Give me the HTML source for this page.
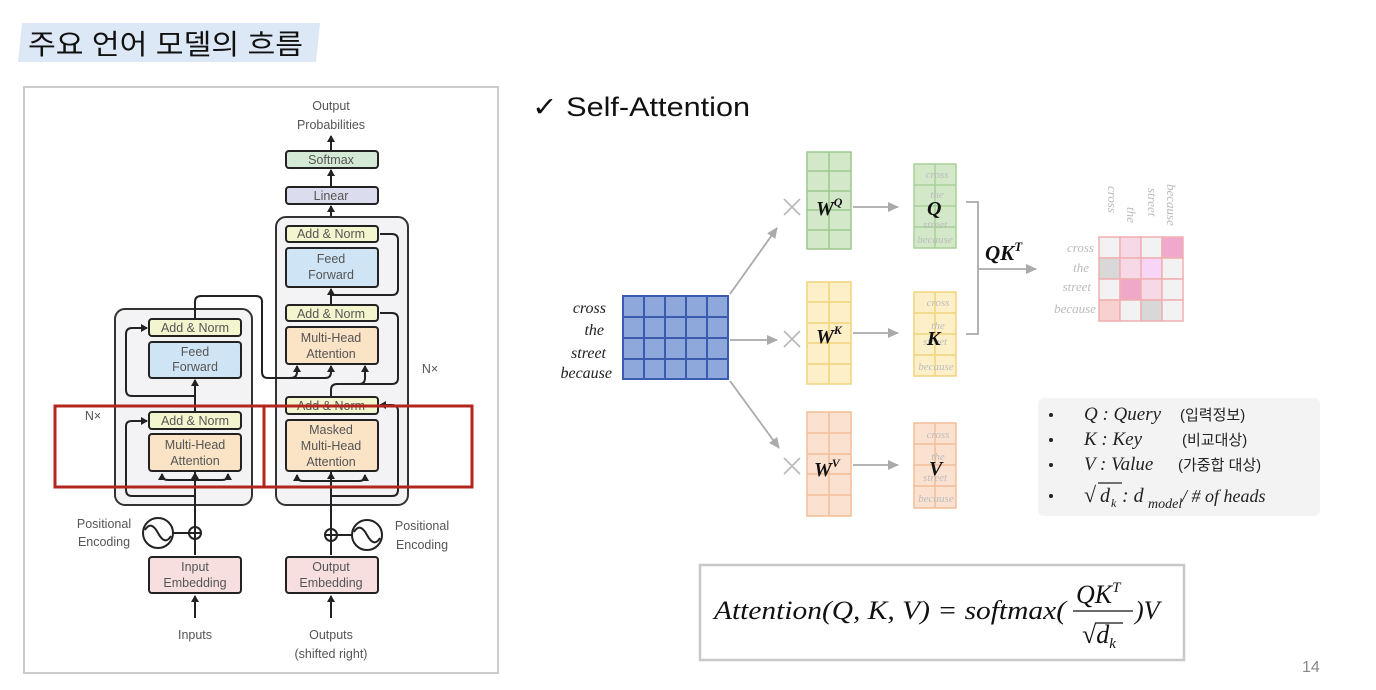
<!DOCTYPE html>
<html><head><meta charset="utf-8"><style>
html,body{margin:0;padding:0;background:#fff;}
svg{display:block;}
.s{font-family:"Liberation Sans","NanumGothic",sans-serif;}
.t{font-family:"Liberation Sans",sans-serif;font-size:12.5px;fill:#555;text-anchor:middle;}
.m{font-family:"Liberation Serif","DejaVu Serif",serif;font-style:italic;}
.b{stroke:#222;stroke-width:2;}
</style></head><body>
<svg width="1376" height="690" viewBox="0 0 1376 690" xmlns="http://www.w3.org/2000/svg">
<defs>
<marker id="a" markerWidth="8" markerHeight="8" refX="6" refY="4" orient="auto" markerUnits="userSpaceOnUse"><path d="M0,0 L7,4 L0,8 z" fill="#222"/></marker>
<marker id="g" markerWidth="12" markerHeight="12" refX="10" refY="6" orient="auto" markerUnits="userSpaceOnUse"><path d="M0,1 L11,6 L0,11 z" fill="#aaa"/></marker>
</defs>
<!-- header -->
<polygon points="22,23 320,23 316,62 18,62" fill="#dce8f5"/>
<text x="28" y="54" font-size="28" textLength="275" lengthAdjust="spacingAndGlyphs" fill="#111" style="font-family:'Liberation Sans','Noto Sans CJK KR',sans-serif">주요 언어 모델의 흐름</text>
<!-- left panel -->
<rect x="24" y="87" width="474" height="586" fill="#fff" stroke="#ccc" stroke-width="2"/>
<!-- transformer -->
<text x="331" y="110" class="t" font-size="13">Output</text>
<text x="331" y="129" class="t" font-size="13">Probabilities</text>
<line x1="331" y1="151" x2="331" y2="136" class="b" marker-end="url(#a)"/>
<rect x="286" y="151" width="92" height="17" rx="3" fill="#d5e9d7" class="b"/>
<text x="331" y="164" class="t">Softmax</text>
<line x1="331" y1="187" x2="331" y2="170" class="b" marker-end="url(#a)"/>
<rect x="286" y="187" width="92" height="17" rx="3" fill="#dcdcef" class="b"/>
<text x="331" y="200" class="t">Linear</text>
<line x1="331" y1="226" x2="331" y2="206" class="b" marker-end="url(#a)"/>
<!-- blocks -->
<rect x="276" y="217" width="132" height="288" rx="10" fill="#f3f3f5" stroke="#333" stroke-width="2"/>
<rect x="115" y="309" width="137" height="196" rx="10" fill="#f3f3f5" stroke="#333" stroke-width="2"/>
<!-- encoder -->
<line x1="195" y1="555" x2="195" y2="434" class="b"/>
<line x1="195" y1="492" x2="195" y2="473" class="b" marker-end="url(#a)"/>
<path d="M195,480 H168 Q162,480 162,474" fill="none" class="b" marker-end="url(#a)"/>
<path d="M195,480 H222 Q228,480 228,474" fill="none" class="b" marker-end="url(#a)"/>
<path d="M195,496 H132 Q126,496 126,490 V426 Q126,421 132,421 H147" fill="none" class="b" marker-end="url(#a)"/>
<line x1="195" y1="412" x2="195" y2="380" class="b" marker-end="url(#a)"/>
<path d="M195,396 H132 Q126,396 126,390 V334 Q126,328 132,328 H147" fill="none" class="b" marker-end="url(#a)"/>
<path d="M195,319 V302 Q195,296 201,296 H256 Q262,296 262,302 V372 Q262,378 268,378 H325 Q331,378 331,372 V366" fill="none" class="b" marker-end="url(#a)"/>
<path d="M290,378 Q297,378 297,372 V366" fill="none" class="b" marker-end="url(#a)"/>
<rect x="149" y="319" width="92" height="17" rx="3" fill="#f3f5cf" class="b"/>
<text x="195" y="332" class="t">Add &amp; Norm</text>
<rect x="149" y="342" width="92" height="36" rx="3" fill="#cfe5f6" class="b"/>
<text x="195" y="356" class="t">Feed</text><text x="195" y="371" class="t">Forward</text>
<rect x="149" y="412" width="92" height="17" rx="3" fill="#f3f5cf" class="b"/>
<text x="195" y="425" class="t">Add &amp; Norm</text>
<rect x="149" y="434" width="92" height="37" rx="3" fill="#fbe3c6" class="b"/>
<text x="195" y="449" class="t">Multi-Head</text><text x="195" y="465" class="t">Attention</text>
<!-- decoder -->
<line x1="331" y1="555" x2="331" y2="472" class="b"/>
<line x1="331" y1="490" x2="331" y2="473" class="b" marker-end="url(#a)"/>
<path d="M331,481 H303 Q297,481 297,475" fill="none" class="b" marker-end="url(#a)"/>
<path d="M331,481 H359 Q365,481 365,475" fill="none" class="b" marker-end="url(#a)"/>
<path d="M331,496 H392 Q398,496 398,490 V411 Q398,405 392,405 H380" fill="none" class="b" marker-end="url(#a)"/>
<path d="M331,397 V390 Q331,384 337,384 H359 Q365,384 365,378 V366" fill="none" class="b" marker-end="url(#a)"/>
<path d="M337,384 H392 Q398,384 398,378 V319 Q398,313 392,313 H380" fill="none" class="b"/>
<line x1="331" y1="305" x2="331" y2="289" class="b" marker-end="url(#a)"/>
<path d="M331,295 H392 Q398,295 398,289 V240 Q398,234 392,234 H380" fill="none" class="b"/>
<rect x="286" y="226" width="92" height="16" rx="3" fill="#f3f5cf" class="b"/>
<text x="331" y="238" class="t">Add &amp; Norm</text>
<rect x="286" y="248" width="92" height="39" rx="3" fill="#cfe5f6" class="b"/>
<text x="331" y="263" class="t">Feed</text><text x="331" y="279" class="t">Forward</text>
<rect x="286" y="305" width="92" height="16" rx="3" fill="#f3f5cf" class="b"/>
<text x="331" y="318" class="t">Add &amp; Norm</text>
<rect x="286" y="327" width="92" height="37" rx="3" fill="#fbe3c6" class="b"/>
<text x="331" y="342" class="t">Multi-Head</text><text x="331" y="358" class="t">Attention</text>
<rect x="286" y="397" width="92" height="17" rx="3" fill="#f3f5cf" class="b"/>
<text x="331" y="410" class="t">Add &amp; Norm</text>
<rect x="286" y="420" width="92" height="51" rx="3" fill="#fbe3c6" class="b"/>
<text x="331" y="434" class="t">Masked</text><text x="331" y="450" class="t">Multi-Head</text><text x="331" y="466" class="t">Attention</text>
<text x="430" y="373" class="t" font-size="13">N×</text>
<text x="93" y="420" class="t" font-size="13">N×</text>
<!-- positional -->
<circle cx="195" cy="533" r="6" fill="#fff" class="b" stroke-width="1.5"/>
<path d="M189,533 H201 M195,527 V539" class="b" stroke-width="1.5"/>
<circle cx="158" cy="533" r="15" fill="#fff" class="b" stroke-width="1.5"/>
<path d="M145,530 Q151,520 158,533 Q165,546 171,536" fill="none" class="b" stroke-width="1.5"/>
<line x1="173" y1="533" x2="189" y2="533" class="b" stroke-width="1.5"/>
<circle cx="331" cy="535" r="6" fill="#fff" class="b" stroke-width="1.5"/>
<path d="M325,535 H337 M331,529 V541" class="b" stroke-width="1.5"/>
<circle cx="367" cy="535" r="15" fill="#fff" class="b" stroke-width="1.5"/>
<path d="M354,532 Q360,522 367,535 Q374,548 380,538" fill="none" class="b" stroke-width="1.5"/>
<line x1="337" y1="535" x2="352" y2="535" class="b" stroke-width="1.5"/>
<text x="104" y="528" class="t" font-size="13">Positional</text>
<text x="104" y="546" class="t" font-size="13">Encoding</text>
<text x="422" y="530" class="t" font-size="13">Positional</text>
<text x="422" y="549" class="t" font-size="13">Encoding</text>
<rect x="149" y="557" width="92" height="36" rx="3" fill="#f7dfe0" class="b"/>
<text x="195" y="571" class="t">Input</text><text x="195" y="587" class="t">Embedding</text>
<rect x="286" y="557" width="92" height="36" rx="3" fill="#f7dfe0" class="b"/>
<text x="331" y="571" class="t">Output</text><text x="331" y="587" class="t">Embedding</text>
<line x1="195" y1="618" x2="195" y2="596" class="b" marker-end="url(#a)"/>
<line x1="331" y1="618" x2="331" y2="596" class="b" marker-end="url(#a)"/>
<text x="195" y="639" class="t" font-size="14">Inputs</text>
<text x="331" y="639" class="t" font-size="14">Outputs</text>
<text x="331" y="658" class="t" font-size="14">(shifted right)</text>
<!-- red boxes -->
<rect x="55" y="406" width="209" height="81" fill="none" stroke="#b3261e" stroke-width="3"/>
<rect x="264" y="406" width="208" height="81" fill="none" stroke="#b3261e" stroke-width="3"/>

<!-- right side -->
<text x="532" y="116" font-size="27" class="s" fill="#111" textLength="218" lengthAdjust="spacingAndGlyphs">✓ Self-Attention</text>
<g class="m" font-size="16" fill="#222" text-anchor="end">
<text x="606" y="313">cross</text><text x="604" y="335">the</text><text x="606" y="358">street</text><text x="612" y="378">because</text>
</g>
<g stroke="#3a5bb0" stroke-width="2" fill="#8fa8dc">
<rect x="623" y="296" width="105" height="83"/>
<path d="M644,296V379M665,296V379M686,296V379M707,296V379M623,317H728M623,338H728M623,359H728" fill="none"/>
</g>
<g stroke="#aaa" stroke-width="1.8" fill="none">
<line x1="730" y1="294" x2="777" y2="228" marker-end="url(#g)"/>
<line x1="730" y1="340" x2="777" y2="340" marker-end="url(#g)"/>
<line x1="730" y1="381" x2="779" y2="448" marker-end="url(#g)"/>
<path d="M784,199L800,215M800,199L784,215M784,331L800,347M800,331L784,347M784,458L800,474M800,458L784,474" stroke="#bbb"/>
<line x1="853" y1="207" x2="898" y2="207" marker-end="url(#g)"/>
<line x1="853" y1="333" x2="898" y2="333" marker-end="url(#g)"/>
<line x1="853" y1="465" x2="898" y2="465" marker-end="url(#g)"/>
<path d="M966,202H978V334H966"/>
<line x1="978" y1="269" x2="1036" y2="269" marker-end="url(#g)"/>
</g>
<!-- W matrices -->
<g stroke-width="1.5">
<g stroke="#9cc78c" fill="#d3e8c8"><rect x="807" y="152" width="44" height="97"/><path d="M829,152V249M807,171H851M807,191H851M807,210H851M807,230H851" fill="none"/></g>
<g stroke="#f2d37a" fill="#fdf0c8"><rect x="807" y="282" width="44" height="102"/><path d="M829,282V384M807,302H851M807,323H851M807,343H851M807,364H851" fill="none"/></g>
<g stroke="#f2be98" fill="#fbe2d0"><rect x="807" y="412" width="44" height="104"/><path d="M829,412V516M807,433H851M807,454H851M807,474H851M807,495H851" fill="none"/></g>
<g stroke="#a8cf98" fill="#d3e8c8"><rect x="914" y="164" width="42" height="84"/><path d="M935,164V248M914,185H956M914,206H956M914,227H956" fill="none"/></g>
<g stroke="#f2d37a" fill="#fdf0c8"><rect x="914" y="292" width="42" height="84"/><path d="M935,292V376M914,313H956M914,334H956M914,355H956" fill="none"/></g>
<g stroke="#f2be98" fill="#fbe2d0"><rect x="914" y="423" width="42" height="85"/><path d="M935,423V508M914,444H956M914,465H956M914,486H956" fill="none"/></g>
</g>
<g class="m" font-size="11" fill="#bbb" text-anchor="middle">
<text x="937" y="178">cross</text><text x="937" y="198">the</text><text x="935" y="228">street</text><text x="935" y="243">because</text>
<text x="938" y="306">cross</text><text x="938" y="329">the</text><text x="935" y="345">street</text><text x="936" y="370">because</text>
<text x="938" y="438">cross</text><text x="938" y="460">the</text><text x="935" y="481">street</text><text x="936" y="502">because</text>
</g>
<g class="m" font-weight="bold" fill="#111">
<text x="816" y="215" font-size="20">W<tspan font-size="12" dy="-9">Q</tspan></text>
<text x="816" y="343" font-size="20">W<tspan font-size="12" dy="-9">K</tspan></text>
<text x="814" y="476" font-size="20">W<tspan font-size="12" dy="-9">V</tspan></text>
<text x="927" y="215" font-size="20">Q</text>
<text x="927" y="345" font-size="20">K</text>
<text x="929" y="475" font-size="20">V</text>
<text x="985" y="260" font-size="21">QK<tspan font-size="13" dy="-9">T</tspan></text>
</g>
<!-- attention matrix -->
<g stroke="#f0b0b0" stroke-width="1.5">
<rect x="1099" y="237" width="21" height="21" fill="#f2f2f2"/><rect x="1120" y="237" width="21" height="21" fill="#f6d8e6"/><rect x="1141" y="237" width="21" height="21" fill="#f2f2f2"/><rect x="1162" y="237" width="21" height="21" fill="#f0a8cc"/>
<rect x="1099" y="258" width="21" height="21" fill="#d8d8d8"/><rect x="1120" y="258" width="21" height="21" fill="#f6d8e6"/><rect x="1141" y="258" width="21" height="21" fill="#f8d4f6"/><rect x="1162" y="258" width="21" height="21" fill="#f2f2f2"/>
<rect x="1099" y="279" width="21" height="21" fill="#f2f2f2"/><rect x="1120" y="279" width="21" height="21" fill="#f0a8c8"/><rect x="1141" y="279" width="21" height="21" fill="#f6d8e6"/><rect x="1162" y="279" width="21" height="21" fill="#f2f2f2"/>
<rect x="1099" y="300" width="21" height="21" fill="#f8d0d0"/><rect x="1120" y="300" width="21" height="21" fill="#f2f2f2"/><rect x="1141" y="300" width="21" height="21" fill="#d8d8d8"/><rect x="1162" y="300" width="21" height="21" fill="#f2f2f2"/>
</g>
<g class="m" font-size="13" fill="#bbb" text-anchor="end">
<text x="1094" y="252">cross</text><text x="1089" y="272">the</text><text x="1091" y="291">street</text><text x="1096" y="313">because</text>
</g>
<g class="m" font-size="13" fill="#bbb">
<text transform="translate(1108,186) rotate(90)">cross</text>
<text transform="translate(1127,207) rotate(90)">the</text>
<text transform="translate(1148,188) rotate(90)">street</text>
<text transform="translate(1167,184) rotate(90)">because</text>
</g>
<!-- legend -->
<rect x="1038" y="398" width="282" height="118" rx="6" fill="#f3f3f3"/>
<g font-size="19" fill="#222">
<circle cx="1051" cy="415" r="2" fill="#222"/><circle cx="1051" cy="440" r="2" fill="#222"/><circle cx="1051" cy="465" r="2" fill="#222"/><circle cx="1051" cy="496" r="2" fill="#222"/>
<text x="1084" y="420" class="m">Q : Query</text><text x="1180" y="420" font-size="15" style="font-family:'Liberation Sans','Noto Sans CJK KR',sans-serif">(입력정보)</text>
<text x="1084" y="445" class="m">K :  Key</text><text x="1182" y="445" font-size="15" style="font-family:'Liberation Sans','Noto Sans CJK KR',sans-serif">(비교대상)</text>
<text x="1084" y="470" class="m">V :  Value</text><text x="1178" y="470" font-size="15" style="font-family:'Liberation Sans','Noto Sans CJK KR',sans-serif">(가중합 대상)</text>
<text x="1084" y="502" class="m" font-size="22">√</text>
<text x="1100" y="502" class="m" font-size="20">d</text>
<text x="1111" y="507" class="m" font-size="12">k</text>
<text x="1122" y="502" class="m" font-size="20">: d</text>
<text x="1148" y="508" class="m" font-size="14">model</text>
<text x="1182" y="502" class="m" font-size="18">/ # of heads</text>
</g>
<line x1="1098" y1="483" x2="1122" y2="483" stroke="#222" stroke-width="1.2"/>
<!-- formula -->
<rect x="700" y="565" width="484" height="95" fill="#fff" stroke="#c8c8c8" stroke-width="2.5"/>
<g class="m" font-size="26" fill="#111">
<text x="714" y="619" textLength="352" lengthAdjust="spacingAndGlyphs">Attention(Q, K, V) = softmax(</text>
<text x="1076" y="603">QK<tspan font-size="15" dy="-11">T</tspan></text>
<text x="1082" y="643">√d<tspan font-size="15" dy="5">k</tspan></text>
<text x="1135" y="619">)V</text>
</g>
<line x1="1073" y1="611" x2="1133" y2="611" stroke="#111" stroke-width="1.3"/>
<line x1="1096" y1="623" x2="1123" y2="623" stroke="#111" stroke-width="1.3"/>
<text x="1302" y="672" font-size="16" class="s" fill="#888">14</text>
</svg>
</body></html>
